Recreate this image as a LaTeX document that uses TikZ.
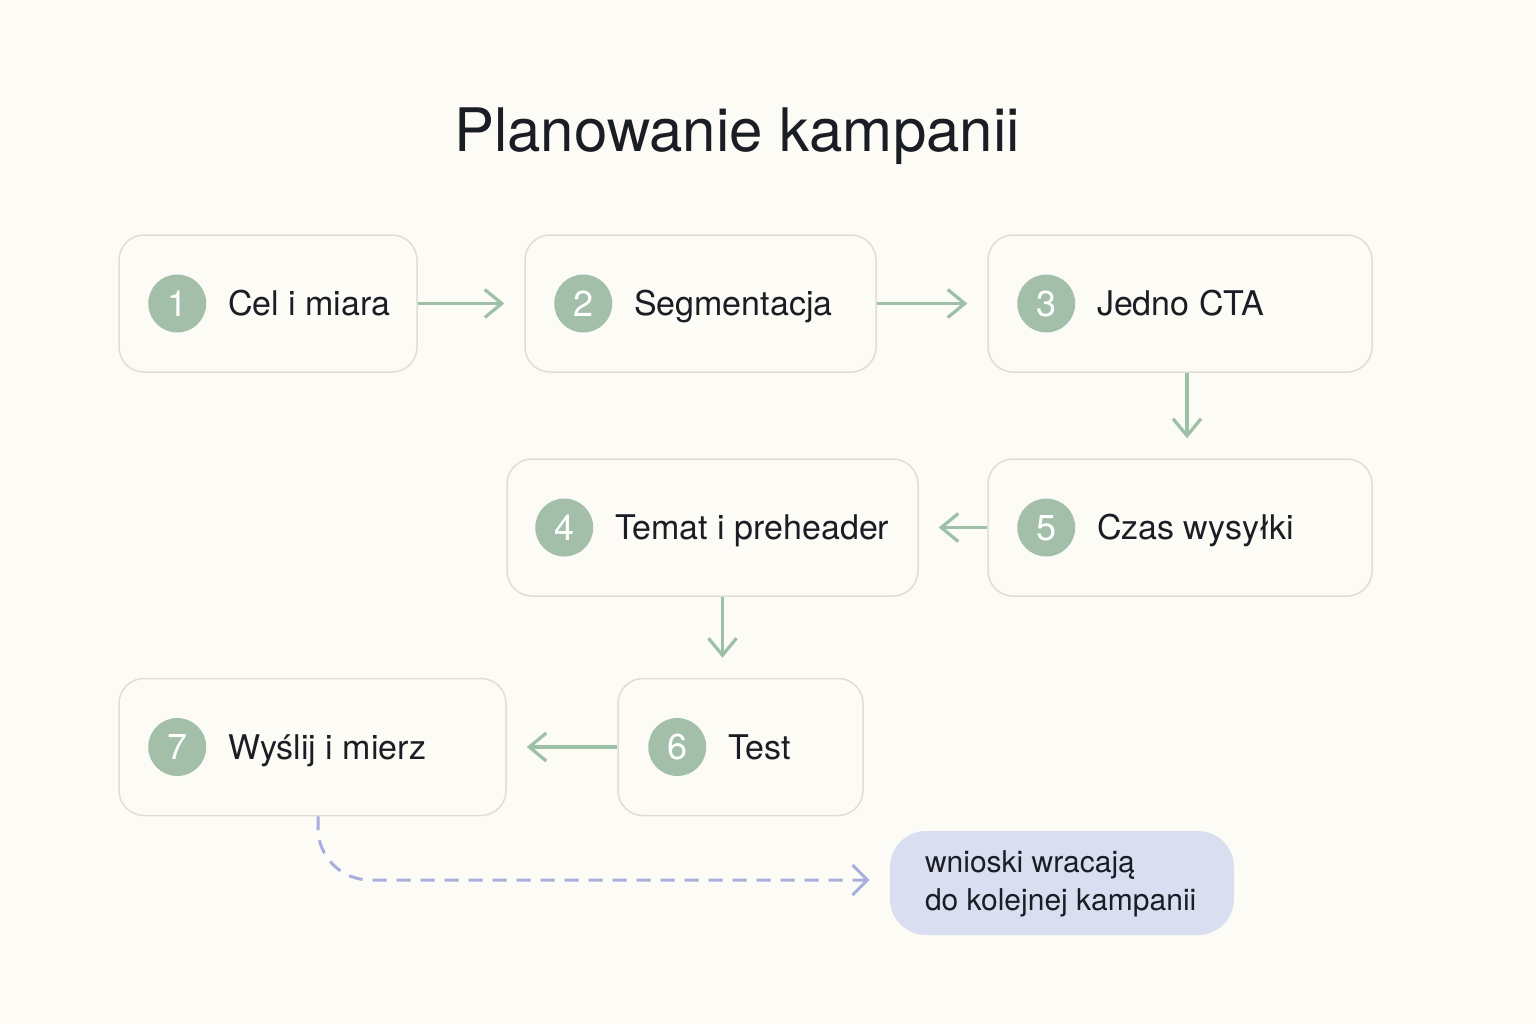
\documentclass[tikz,border=0pt]{standalone}
\usepackage{fontspec}
\setmainfont{TeX Gyre Heros}
\usetikzlibrary{positioning,arrows.meta}

\definecolor{fondo}{HTML}{FCFBF6}
\definecolor{borde}{HTML}{DFDED6}
\definecolor{verde}{HTML}{A3BFA9}
\definecolor{flecha}{HTML}{9DC0A6}
\definecolor{lila}{HTML}{D9DEF1}
\definecolor{lilaosc}{HTML}{A8AEDE}
\definecolor{tinta}{HTML}{1A1D23}

\tikzset{
  caja/.style={draw=borde, line width=0.75pt, fill=fondo, rounded corners=12.5pt,
    minimum height=68.5pt, inner sep=0pt},
  num/.style={circle, fill=verde, text=white, minimum size=29pt, inner sep=0pt,
    font=\fontsize{18}{20}\selectfont, text height=12.8pt, text depth=0pt},
  etiqueta/.style={text=tinta, inner sep=0pt, anchor=west,
    font=\fontsize{17}{20}\selectfont, text height=12.2pt, text depth=0pt},
  paso/.style={draw=flecha, line width=1.6pt, shorten >=10pt,
    -{Straight Barb[length=8.5pt,width=14pt,line width=1.6pt]}},
  vuelta/.style={draw=lilaosc, line width=1.5pt, dash pattern=on 7pt off 5pt,
    rounded corners=26pt, shorten >=10pt,
    -{Straight Barb[length=7.5pt,width=15pt,line width=1.5pt]}}
}

\begin{document}
\begin{tikzpicture}[x=0.5pt, y=-0.5pt]
    % Fondo
    \fill[fondo] (0,0) rectangle (1536,1024);
    \useasboundingbox (0,0) rectangle (1536,1024);

    % Titulo
    \node[text=tinta, font=\fontsize{30}{36}\selectfont] (titulo) at (737,136) {Planowanie kampanii};

    % Cajas
    \node[caja, minimum width=149pt]   (c1) at (268,303.5)   {};
    \node[caja, minimum width=175.5pt] (c2) at (700.5,303.5) {};
    \node[caja, minimum width=192pt]   (c3) at (1180,303.5)  {};
    \node[caja, minimum width=205.5pt] (c4) at (712.5,527.5) {};
    \node[caja, minimum width=192pt]   (c5) at (1180,527.5)  {};
    \node[caja, minimum width=122.5pt] (c6) at (740.5,747)   {};
    \node[caja, minimum width=193.5pt] (c7) at (312.5,747)   {};

    % Numeros y textos
    \node[num] (n1) at ([xshift=29.5pt]c1.west) {1};
    \node[etiqueta, right=10.5pt of n1] (t1) {Cel i miara};
    \node[num] (n2) at ([xshift=29.5pt]c2.west) {2};
    \node[etiqueta, right=10.5pt of n2] (t2) {Segmentacja};
    \node[num] (n3) at ([xshift=29.5pt]c3.west) {3};
    \node[etiqueta, right=10.5pt of n3] (t3) {Jedno CTA};
    \node[num] (n4) at ([xshift=29pt]c4.west) {4};
    \node[etiqueta, right=10.5pt of n4] (t4) {Temat i preheader};
    \node[num] (n5) at ([xshift=29.5pt]c5.west) {5};
    \node[etiqueta, right=10.5pt of n5] (t5) {Czas wysyłki};
    \node[num] (n6) at ([xshift=30pt]c6.west) {6};
    \node[etiqueta, right=10.5pt of n6] (t6) {Test};
    \node[num] (n7) at ([xshift=29.5pt]c7.west) {7};
    \node[etiqueta, right=10.5pt of n7] (t7) {Wyślij i mierz};

    % Nota
    \node[fill=lila, rounded corners=18pt, minimum width=172pt, minimum height=52pt,
          inner sep=0pt] (nota) at (1062,883) {};
    \node[anchor=west, align=left, inner sep=0pt, text=tinta,
          font=\fontsize{15}{19}\selectfont] (notatxt) at ([xshift=17.5pt,yshift=-0.5pt]nota.west)
          {wnioski wracają\\do kolejnej kampanii};

    % Flechas
    \draw[paso] (c1.east) -- (c2.west);
    \draw[paso] (c2.east) -- (c3.west);
    \draw[paso] ([xshift=3.5pt]c3.south) -- ([xshift=3.5pt]c3.south |- c5.north);
    \draw[paso] (c5.west) -- (c4.east);
    \draw[paso] ([xshift=5pt]c4.south) -- ([xshift=5pt]c4.south |- c6.north);
    \draw[paso] (c6.west) -- (c7.east);

    % Vuelta a la siguiente campana
    \draw[vuelta] ([xshift=2.75pt]c7.south) |- ([yshift=1.5pt]nota.west);
\end{tikzpicture}
\end{document}
